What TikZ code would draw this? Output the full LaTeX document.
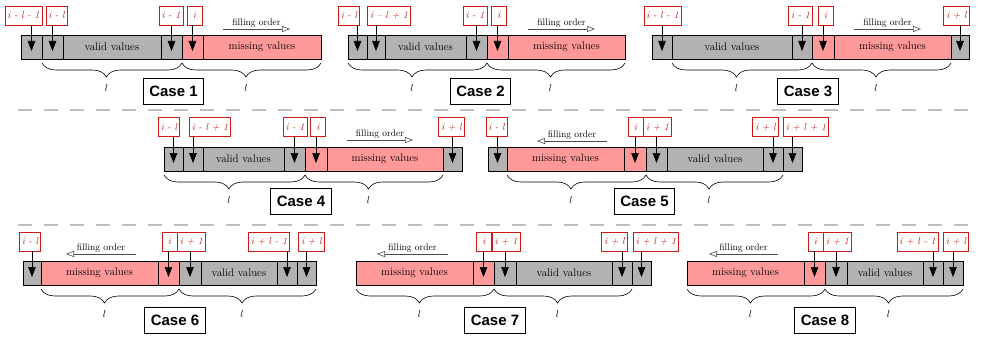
\documentclass[tikz,border=0pt]{standalone}
\usepackage{fontspec}
\newfontfamily\casefont{Liberation Sans}
\usetikzlibrary{arrows.meta,decorations.pathreplacing}
\definecolor{cellgray}{RGB}{178,178,178}
\definecolor{cellpink}{RGB}{255,153,153}
\definecolor{idxred}{RGB}{208,24,24}
\tikzstyle{validCell} = [shape=rectangle, draw=black, fill=cellgray, semithick,
	minimum height=24pt, inner sep=0pt, outer sep=0pt, anchor=north west,
	font=\fontsize{11}{13}\selectfont]
\tikzstyle{missCell} = [validCell, fill=cellpink]
\tikzstyle{idxBox} = [shape=rectangle, draw=idxred, text=idxred, semithick,
	fill=white, font=\fontsize{10}{12}\selectfont\itshape, minimum height=19pt,
	minimum width=15pt, inner xsep=2.5pt]
\tikzstyle{caseBox} = [shape=rectangle, draw=black, thick, fill=white,
	font=\casefont\bfseries\fontsize{15}{18}\selectfont, minimum height=26pt,
	inner xsep=6pt]
\tikzstyle{idxArrow} = [-{Triangle[length=10pt,width=7.5pt]}, semithick]
\tikzstyle{fillArrow} = [-{Triangle[open,length=8pt,width=6pt]}, semithick, black!70]
\tikzstyle{lenBrace} = [decorate, decoration={brace, mirror, amplitude=14pt,
	raise=4pt, aspect=0.46}, semithick]
\tikzstyle{sepLine} = [line width=1.5pt, black!25, dash pattern=on 14pt off 12pt]
\newcommand{\seqcell}[6]{\node[#1, minimum width={(#4-#3)*1pt}] (#2) at (#3,#5) {#6};}

\begin{document}
\begin{tikzpicture}[x=1pt, y=-1pt]
  \useasboundingbox (0,0) rectangle (984,337);
  \draw[sepLine] (18,110) -- (979,110);
  \draw[sepLine] (18,225) -- (979,225);

  \seqcell{validCell}{c1a}{21}{42}{35}{}
  \seqcell{validCell}{c1b}{42}{63}{35}{}
  \seqcell{validCell}{c1c}{63}{161}{35}{valid values}
  \seqcell{validCell}{c1d}{161}{182}{35}{}
  \seqcell{missCell}{c1e}{182}{203}{35}{}
  \seqcell{missCell}{c1f}{203}{321}{35}{missing values}
  \node[idxBox] (l1a) at (23.5,15.5) {i - l - 1};
  \node[idxBox] (l1b) at (56.5,15.5) {i - l};
  \node[idxBox] (l1c) at (171,15.5) {i - 1};
  \node[idxBox] (l1d) at (194.5,15.5) {i};
  \draw[idxArrow] (l1a.south -| c1a) -- ([yshift=-4pt]c1a.center);
  \draw[idxArrow] (l1b.south -| c1b) -- ([yshift=-4pt]c1b.center);
  \draw[idxArrow] (l1c.south -| c1d) -- ([yshift=-4pt]c1d.center);
  \draw[idxArrow] (l1d.south -| c1e) -- ([yshift=-4pt]c1e.center);
  \coordinate (f1s) at (223,29);
  \coordinate (f1e) at (290,29);
  \draw[fillArrow] (f1s) -- node[above, inner sep=1pt, text=black] {\fontsize{9.5}{11}\selectfont filling order} (f1e);
  \draw[lenBrace] (c1b.south west) -- node[below=22pt, pos=0.46] {$l$} (c1d.south east);
  \draw[lenBrace] (c1e.south west) -- node[below=22pt, pos=0.46] {$l$} (c1f.south east);
  \node[caseBox] (k1) at (173.5,91) {Case 1};

  \seqcell{validCell}{c2a}{348}{367}{35}{}
  \seqcell{validCell}{c2b}{367}{385}{35}{}
  \seqcell{validCell}{c2c}{385}{466}{35}{valid values}
  \seqcell{validCell}{c2d}{466}{487}{35}{}
  \seqcell{missCell}{c2e}{487}{508}{35}{}
  \seqcell{missCell}{c2f}{508}{625}{35}{missing values}
  \node[idxBox] (l2a) at (349,15.5) {i - l};
  \node[idxBox] (l2b) at (389,15.5) {i -- l + 1};
  \node[idxBox] (l2c) at (475,15.5) {i - 1};
  \node[idxBox] (l2d) at (499,15.5) {i};
  \draw[idxArrow] (l2a.south -| c2a) -- ([yshift=-4pt]c2a.center);
  \draw[idxArrow] (l2b.south -| c2b) -- ([yshift=-4pt]c2b.center);
  \draw[idxArrow] (l2c.south -| c2d) -- ([yshift=-4pt]c2d.center);
  \draw[idxArrow] (l2d.south -| c2e) -- ([yshift=-4pt]c2e.center);
  \coordinate (f2s) at (528,29);
  \coordinate (f2e) at (595,29);
  \draw[fillArrow] (f2s) -- node[above, inner sep=1pt, text=black] {\fontsize{9.5}{11}\selectfont filling order} (f2e);
  \draw[lenBrace] (c2a.south west) -- node[below=22pt, pos=0.46] {$l$} (c2d.south east);
  \draw[lenBrace] (c2e.south west) -- node[below=22pt, pos=0.46] {$l$} (c2f.south east);
  \node[caseBox] (k2) at (480.5,91) {Case 2};

  \seqcell{validCell}{c3a}{652}{672}{35}{}
  \seqcell{validCell}{c3b}{672}{792}{35}{valid values}
  \seqcell{validCell}{c3c}{792}{812}{35}{}
  \seqcell{missCell}{c3d}{812}{834}{35}{}
  \seqcell{missCell}{c3e}{834}{951}{35}{missing values}
  \seqcell{validCell}{c3f}{951}{969}{35}{}
  \node[idxBox] (l3a) at (662.5,15.5) {i - l - 1};
  \node[idxBox] (l3b) at (800.5,15.5) {i - 1};
  \node[idxBox] (l3c) at (825.5,15.5) {i};
  \node[idxBox] (l3d) at (956.5,15.5) {i + l};
  \draw[idxArrow] (l3a.south -| c3a) -- ([yshift=-4pt]c3a.center);
  \draw[idxArrow] (l3b.south -| c3c) -- ([yshift=-4pt]c3c.center);
  \draw[idxArrow] (l3c.south -| c3d) -- ([yshift=-4pt]c3d.center);
  \draw[idxArrow] (l3d.south -| c3f) -- ([yshift=-4pt]c3f.center);
  \coordinate (f3s) at (854,29);
  \coordinate (f3e) at (921,29);
  \draw[fillArrow] (f3s) -- node[above, inner sep=1pt, text=black] {\fontsize{9.5}{11}\selectfont filling order} (f3e);
  \draw[lenBrace] (c3b.south west) -- node[below=22pt, pos=0.46] {$l$} (c3c.south east);
  \draw[lenBrace] (c3d.south west) -- node[below=22pt, pos=0.46] {$l$} (c3e.south east);
  \node[caseBox] (k3) at (808,91) {Case 3};

  \seqcell{validCell}{c4a}{164}{183}{147}{}
  \seqcell{validCell}{c4b}{183}{203}{147}{}
  \seqcell{validCell}{c4c}{203}{284}{147}{valid values}
  \seqcell{validCell}{c4d}{284}{305}{147}{}
  \seqcell{missCell}{c4e}{305}{327}{147}{}
  \seqcell{missCell}{c4f}{327}{443}{147}{missing values}
  \seqcell{validCell}{c4g}{443}{462}{147}{}
  \node[idxBox] (l4a) at (169,127) {i - l};
  \node[idxBox] (l4b) at (210,127) {i - l + 1};
  \node[idxBox] (l4c) at (295,127) {i - 1};
  \node[idxBox] (l4d) at (318,127) {i};
  \node[idxBox] (l4e) at (451.5,127) {i + l};
  \draw[idxArrow] (l4a.south -| c4a) -- ([yshift=-4pt]c4a.center);
  \draw[idxArrow] (l4b.south -| c4b) -- ([yshift=-4pt]c4b.center);
  \draw[idxArrow] (l4c.south -| c4d) -- ([yshift=-4pt]c4d.center);
  \draw[idxArrow] (l4d.south -| c4e) -- ([yshift=-4pt]c4e.center);
  \draw[idxArrow] (l4e.south -| c4g) -- ([yshift=-4pt]c4g.center);
  \coordinate (f4s) at (347,140);
  \coordinate (f4e) at (413,140);
  \draw[fillArrow] (f4s) -- node[above, inner sep=1pt, text=black] {\fontsize{9.5}{11}\selectfont filling order} (f4e);
  \draw[lenBrace] (c4a.south west) -- node[below=22pt, pos=0.46] {$l$} (c4d.south east);
  \draw[lenBrace] (c4e.south west) -- node[below=22pt, pos=0.46] {$l$} (c4f.south east);
  \node[caseBox] (k4) at (301,201) {Case 4};

  \seqcell{validCell}{c5a}{488}{507}{147}{}
  \seqcell{missCell}{c5b}{507}{624}{147}{missing values}
  \seqcell{missCell}{c5c}{624}{646}{147}{}
  \seqcell{validCell}{c5d}{646}{667}{147}{}
  \seqcell{validCell}{c5e}{667}{763}{147}{valid values}
  \seqcell{validCell}{c5f}{763}{783}{147}{}
  \seqcell{validCell}{c5g}{783}{802}{147}{}
  \node[idxBox] (l5a) at (496.5,127) {i - l};
  \node[idxBox] (l5b) at (635.5,127) {i};
  \node[idxBox] (l5c) at (657.5,127) {i + 1};
  \node[idxBox] (l5d) at (765.5,127) {i + l};
  \node[idxBox] (l5e) at (806,127) {i + l + 1};
  \draw[idxArrow] (l5a.south -| c5a) -- ([yshift=-4pt]c5a.center);
  \draw[idxArrow] (l5b.south -| c5c) -- ([yshift=-4pt]c5c.center);
  \draw[idxArrow] (l5c.south -| c5d) -- ([yshift=-4pt]c5d.center);
  \draw[idxArrow] (l5d.south -| c5f) -- ([yshift=-4pt]c5f.center);
  \draw[idxArrow] (l5e.south -| c5g) -- ([yshift=-4pt]c5g.center);
  \coordinate (f5s) at (607,141);
  \coordinate (f5e) at (537,141);
  \draw[fillArrow] (f5s) -- node[above, inner sep=1pt, text=black] {\fontsize{9.5}{11}\selectfont filling order} (f5e);
  \draw[lenBrace] (c5b.south west) -- node[below=22pt, pos=0.46] {$l$} (c5c.south east);
  \draw[lenBrace] (c5d.south west) -- node[below=22pt, pos=0.46] {$l$} (c5f.south east);
  \node[caseBox] (k5) at (644.5,201.5) {Case 5};

  \seqcell{validCell}{c6a}{23}{41}{261}{}
  \seqcell{missCell}{c6b}{41}{158}{261}{missing values}
  \seqcell{missCell}{c6c}{158}{179}{261}{}
  \seqcell{validCell}{c6d}{179}{201}{261}{}
  \seqcell{validCell}{c6e}{201}{277}{261}{valid values}
  \seqcell{validCell}{c6f}{277}{297}{261}{}
  \seqcell{validCell}{c6g}{297}{316}{261}{}
  \node[idxBox] (l6a) at (30,241.5) {i - l};
  \node[idxBox] (l6b) at (169.5,241.5) {i};
  \node[idxBox] (l6c) at (191.5,241.5) {i + 1};
  \node[idxBox] (l6d) at (269,241.5) {i + l - 1};
  \node[idxBox] (l6e) at (311.5,241.5) {i + l};
  \draw[idxArrow] (l6a.south -| c6a) -- ([yshift=-4pt]c6a.center);
  \draw[idxArrow] (l6b.south -| c6c) -- ([yshift=-4pt]c6c.center);
  \draw[idxArrow] (l6c.south -| c6d) -- ([yshift=-4pt]c6d.center);
  \draw[idxArrow] (l6d.south -| c6f) -- ([yshift=-4pt]c6f.center);
  \draw[idxArrow] (l6e.south -| c6g) -- ([yshift=-4pt]c6g.center);
  \coordinate (f6s) at (136,254);
  \coordinate (f6e) at (66,254);
  \draw[fillArrow] (f6s) -- node[above, inner sep=1pt, text=black] {\fontsize{9.5}{11}\selectfont filling order} (f6e);
  \draw[lenBrace] (c6b.south west) -- node[below=22pt, pos=0.46] {$l$} (c6c.south east);
  \draw[lenBrace] (c6d.south west) -- node[below=22pt, pos=0.46] {$l$} (c6g.south east);
  \node[caseBox] (k6) at (175,320) {Case 6};

  \seqcell{missCell}{c7a}{356}{473}{261}{missing values}
  \seqcell{missCell}{c7b}{473}{494}{261}{}
  \seqcell{validCell}{c7c}{494}{516}{261}{}
  \seqcell{validCell}{c7d}{516}{612}{261}{valid values}
  \seqcell{validCell}{c7e}{612}{632}{261}{}
  \seqcell{validCell}{c7f}{632}{651}{261}{}
  \node[idxBox] (l7a) at (484,241.5) {i};
  \node[idxBox] (l7b) at (506,241.5) {i + 1};
  \node[idxBox] (l7c) at (614.5,241.5) {i + l};
  \node[idxBox] (l7d) at (656,241.5) {i + l + 1};
  \draw[idxArrow] (l7a.south -| c7b) -- ([yshift=-4pt]c7b.center);
  \draw[idxArrow] (l7b.south -| c7c) -- ([yshift=-4pt]c7c.center);
  \draw[idxArrow] (l7c.south -| c7e) -- ([yshift=-4pt]c7e.center);
  \draw[idxArrow] (l7d.south -| c7f) -- ([yshift=-4pt]c7f.center);
  \coordinate (f7s) at (448,254);
  \coordinate (f7e) at (377,254);
  \draw[fillArrow] (f7s) -- node[above, inner sep=1pt, text=black] {\fontsize{9.5}{11}\selectfont filling order} (f7e);
  \draw[lenBrace] (c7a.south west) -- node[below=22pt, pos=0.46] {$l$} (c7b.south east);
  \draw[lenBrace] (c7c.south west) -- node[below=22pt, pos=0.46] {$l$} (c7e.south east);
  \node[caseBox] (k7) at (495,320) {Case 7};

  \seqcell{missCell}{c8a}{687}{804}{261}{missing values}
  \seqcell{missCell}{c8b}{804}{825}{261}{}
  \seqcell{validCell}{c8c}{825}{847}{261}{}
  \seqcell{validCell}{c8d}{847}{923}{261}{valid values}
  \seqcell{validCell}{c8e}{923}{943}{261}{}
  \seqcell{validCell}{c8f}{943}{963}{261}{}
  \node[idxBox] (l8a) at (815.5,241.5) {i};
  \node[idxBox] (l8b) at (837.5,241.5) {i + 1};
  \node[idxBox] (l8c) at (917.5,241.5) {i + l - 1};
  \node[idxBox] (l8d) at (956,241.5) {i + l};
  \draw[idxArrow] (l8a.south -| c8b) -- ([yshift=-4pt]c8b.center);
  \draw[idxArrow] (l8b.south -| c8c) -- ([yshift=-4pt]c8c.center);
  \draw[idxArrow] (l8c.south -| c8e) -- ([yshift=-4pt]c8e.center);
  \draw[idxArrow] (l8d.south -| c8f) -- ([yshift=-4pt]c8f.center);
  \coordinate (f8s) at (778,254);
  \coordinate (f8e) at (709,254);
  \draw[fillArrow] (f8s) -- node[above, inner sep=1pt, text=black] {\fontsize{9.5}{11}\selectfont filling order} (f8e);
  \draw[lenBrace] (c8a.south west) -- node[below=22pt, pos=0.46] {$l$} (c8b.south east);
  \draw[lenBrace] (c8c.south west) -- node[below=22pt, pos=0.46] {$l$} (c8f.south east);
  \node[caseBox] (k8) at (825,320) {Case 8};
\end{tikzpicture}
\end{document}
